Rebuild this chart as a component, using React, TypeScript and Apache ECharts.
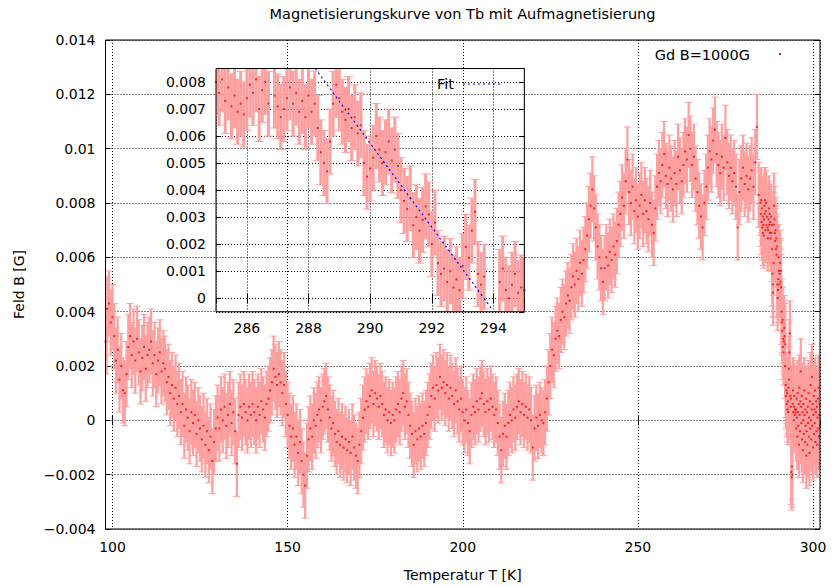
import React, { useEffect, useRef } from "react";
import * as echarts from "echarts";

const FONT = "DejaVu Sans";

// ---- field B [G] vs temperature T [K] ----
// segment 1: 98 K .. 284.5 K, every 0.5 K
const SEG1_T_START = 98;
const SEG1_T_STEP = 0.5;
const fieldSeg1: (number | null)[] = [
  0.0029, 0.0041, 0.0043, 0.0036,
  0.0038, 0.0031, 0.0022, 0.0026, 0.0015, 0.0020, 0.0011, 0.0010, 0.0017, 0.0027,
  0.0031, 0.0024, 0.0029, 0.0022, 0.0030, 0.0025, 0.0018, 0.0023, 0.0027, 0.0019,
  0.0024, 0.0026, 0.0029, 0.0021, 0.0024, 0.0017, 0.0022, 0.0025, 0.0018, 0.0021,
  0.0019, 0.0014, 0.0016, 0.0010, 0.0013, 0.0008, 0.0012, 0.0006, 0.0009, 0.0003,
  0.0006, -0.0002, 0.0004, 0.0001, -0.0004, 0.0003, -0.0001, 0.0002, -0.0005, 0.0000,
  -0.0003, -0.0007, -0.0002, -0.0009, -0.0004, -0.0011, -0.0006, -0.0015, -0.0008, -0.0003,
  0.0001, -0.0003, 0.0004, 0.0000, 0.0005, -0.0002, 0.0002, 0.0006, -0.0001, 0.0003,
  -0.0004, -0.0016, 0.0002, 0.0005, 0.0001, 0.0006, 0.0003, 0.0000, 0.0005, 0.0002,
  0.0006, 0.0003, 0.0000, 0.0005, 0.0002, 0.0007, 0.0004, 0.0001, 0.0006, 0.0008,
  0.0011, 0.0014, 0.0019, 0.0016, 0.0013, 0.0017, 0.0014, 0.0010, 0.0013, 0.0006,
  0.0002, -0.0002, -0.0006, -0.0003, -0.0009, -0.0006, -0.0012, -0.0008, -0.0015, -0.0020,
  -0.0024, -0.0013, -0.0007, -0.0003, -0.0006, 0.0000, -0.0002, 0.0002, 0.0004, 0.0000,
  0.0005, 0.0007, 0.0009, 0.0004, 0.0001, -0.0003, -0.0001, -0.0005, -0.0008, -0.0004,
  -0.0009, -0.0006, -0.0010, -0.0007, -0.0011, -0.0008, -0.0012, -0.0006, -0.0010, -0.0013,
  -0.0015, -0.0009, -0.0004, 0.0001, 0.0004, 0.0007, 0.0005, 0.0009, 0.0011, 0.0006,
  0.0010, 0.0008, 0.0005, 0.0009, 0.0006, 0.0002, 0.0004, 0.0000, 0.0003, -0.0001,
  0.0002, 0.0000, 0.0004, 0.0006, 0.0003, 0.0008, 0.0010, 0.0005, 0.0007, 0.0002,
  -0.0002, -0.0005, -0.0009, -0.0004, -0.0007, -0.0003, -0.0006, -0.0002, -0.0005, -0.0001,
  0.0002, 0.0005, 0.0009, 0.0012, 0.0008, 0.0013, 0.0011, 0.0016, 0.0012, 0.0014,
  0.0010, 0.0013, 0.0008, 0.0012, 0.0009, 0.0006, 0.0011, 0.0007, 0.0004, 0.0008,
  0.0003, 0.0000, 0.0004, -0.0001, -0.0004, 0.0002, 0.0005, 0.0003, 0.0007, 0.0004,
  0.0008, 0.0010, 0.0006, 0.0003, 0.0007, 0.0004, 0.0008, 0.0005, 0.0002, 0.0004,
  -0.0001, -0.0006, -0.0011, -0.0005, -0.0002, -0.0006, -0.0001, 0.0002, 0.0000, 0.0004,
  0.0001, 0.0005, 0.0007, 0.0003, 0.0006, 0.0002, 0.0005, 0.0001, 0.0004, 0.0000,
  -0.0010, -0.0003, 0.0001, -0.0002, 0.0002, 0.0000, -0.0001, 0.0003, 0.0008, 0.0014,
  0.0020, 0.0026, 0.0024, 0.0030, 0.0033, 0.0031, 0.0037, 0.0040, 0.0038, 0.0043,
  0.0046, 0.0044, 0.0049, 0.0053, 0.0050, 0.0055, 0.0052, 0.0058, 0.0054, 0.0059,
  0.0063, 0.0068, 0.0074, 0.0079, 0.0085, 0.0078, 0.0071, 0.0064, 0.0060, 0.0056,
  0.0051, 0.0056, 0.0060, 0.0057, 0.0062, 0.0059, 0.0064, 0.0061, 0.0066, 0.0072,
  0.0076, 0.0082, 0.0079, 0.0088, 0.0096, 0.0084, 0.0080, 0.0086, 0.0077, 0.0081,
  0.0075, 0.0079, 0.0083, 0.0076, 0.0081, 0.0077, 0.0074, 0.0080, 0.0072, 0.0069,
  0.0078, 0.0086, 0.0091, 0.0088, 0.0094, 0.0098, 0.0090, 0.0087, 0.0093, 0.0089,
  0.0085, 0.0091, 0.0087, 0.0097, 0.0092, 0.0088, 0.0094, 0.0099, 0.0096, 0.0105,
  0.0100, 0.0094, 0.0097, 0.0089, 0.0084, 0.0079, 0.0075, 0.0071, 0.0080, 0.0086,
  0.0093, 0.0099, 0.0096, 0.0103, 0.0107, 0.0098, 0.0094, 0.0091, 0.0097, 0.0093,
  0.0104, 0.0095, 0.0090, 0.0093, 0.0088, 0.0091, 0.0086, 0.0071, 0.0084, 0.0089,
  0.0093, 0.0087, 0.0090, 0.0085, 0.0089, 0.0092, 0.0086, 0.0095, 0.0108, 0.0083,
];

// segment 2: 285.0 K .. 295.0 K, every 0.1 K (the zoomed region)
const SEG2_T_START = 285;
const SEG2_T_STEP = 0.1;
const fieldSeg2: (number | null)[] = [
  0.0080, 0.0076, 0.0081, 0.0073, 0.0078, 0.0071, 0.0075, 0.0069, 0.0072, 0.0068,
  0.0074, 0.0079, 0.0076, 0.0081, 0.0070, 0.0077, 0.0080, 0.0072, null, 0.0075,
  0.0071, 0.0067, 0.0070, 0.0074, 0.0078, 0.0072, 0.0076, 0.0069, 0.0073, 0.0067,
  0.0075, 0.0069, 0.0072, 0.0063, 0.0054, 0.0050, 0.0047, 0.0058, 0.0072, 0.0079,
  0.0074, 0.0069, 0.0066, 0.0070, 0.0063, 0.0067, 0.0061, 0.0064, 0.0050, 0.0045,
  0.0048, 0.0052, 0.0060, 0.0055, 0.0050, 0.0054, 0.0058, 0.0051, 0.0055, 0.0049,
  0.0040, 0.0036, 0.0033, 0.0037, 0.0027, 0.0030, 0.0025, 0.0029, 0.0034, 0.0031,
  0.0020, 0.0028, 0.0013, 0.0009, 0.0011, 0.0006, 0.0010, 0.0004, 0.0007, 0.0003,
  0.0012, 0.0019, 0.0015, 0.0025, 0.0032, 0.0009, 0.0005, 0.0008, -0.0019, -0.0021,
  -0.0017, -0.0020, 0.0006, 0.0011, 0.0003, 0.0000, 0.0005, 0.0009, 0.0002, 0.0004,
  0.0003,
];

// segment 3: 295.1 K .. 302.0 K, every 0.1 K
const SEG3_T_START = 295.1;
const SEG3_T_STEP = 0.1;
const fieldSeg3: (number | null)[] = [
  0.0004, -0.0003, 0.0008, 0.0001, -0.0006, 0.0010, 0.0003, -0.0002, 0.0006, -0.0009,
  0.0012, 0.0002, -0.0004, 0.0007, 0.0018, 0.0005, -0.0001, 0.0009, -0.0007, 0.0003,
  -0.0011, 0.0000, 0.0006, -0.0005, 0.0011, 0.0002, -0.0008, 0.0004, -0.0002, 0.0008,
  -0.0013, -0.0004, 0.0003, -0.0009, 0.0005, -0.0001, 0.0010, -0.0006, 0.0001, -0.0012,
  0.0007, -0.0003, 0.0013, 0.0000, -0.0007, 0.0004, 0.0016, -0.0002, 0.0006, -0.0010,
  0.0002, 0.0009, -0.0005, 0.0004, -0.0001, 0.0011, -0.0008, 0.0003, 0.0007, -0.0004,
  0.0005, -0.0009, 0.0001, 0.0008, -0.0003, 0.0012, -0.0006, 0.0002, 0.0006, -0.0002,
];

// error of each measured field value
const FIELD_ERR = 0.0012;

// linear fit drawn in the inset (end points)
const fitT = [288.22, 293.93];
const fitB = [0.0085, -0.00037];

// tick labels
const mainXTicks = [100, 150, 200, 250, 300];
const mainYTicks = [-0.004, -0.002, 0, 0.002, 0.004, 0.006, 0.008, 0.01, 0.012, 0.014];
const mainYTickLabels = ["\u22120.004", "\u22120.002", "0", "0.002", "0.004", "0.006", "0.008", "0.01", "0.012", "0.014"];
const insetXTicks = [286, 288, 290, 292, 294];
const insetYTicks = [0, 0.001, 0.002, 0.003, 0.004, 0.005, 0.006, 0.007, 0.008];
const insetYTickLabels = ["0", "0.001", "0.002", "0.003", "0.004", "0.005", "0.006", "0.007", "0.008"];

const ERR_COLOR = "#ff9f9f";
const DOT_COLOR = "#ff0000";

function toPoints(start: number, step: number, values: (number | null)[]) {
  const out: number[][] = [];
  values.forEach((b, i) => {
    if (b === null) return;
    out.push([Number((start + i * step).toFixed(3)), b, FIELD_ERR]);
  });
  return out;
}

function makeErrorBarRenderer(capHalf: number, barWidth: number) {
  return (params: any, api: any) => {
    const t = api.value(0);
    const b = api.value(1);
    const e = api.value(2);
    const cs = params.coordSys;
    const top = api.coord([t, b + e]);
    const bot = api.coord([t, b - e]);
    const x = top[0];
    if (x < cs.x - 0.5 || x > cs.x + cs.width + 0.5) return null;
    const yLo = cs.y;
    const yHi = cs.y + cs.height;
    const y1 = Math.max(top[1], yLo);
    const y2 = Math.min(bot[1], yHi);
    if (y2 <= y1) return null;
    const xl = Math.max(x - capHalf, cs.x);
    const xr = Math.min(x + capHalf, cs.x + cs.width);
    const bx = Math.min(Math.max(x, cs.x + barWidth / 2), cs.x + cs.width - barWidth / 2);
    const capStyle = { stroke: ERR_COLOR, lineWidth: 1 };
    const children: any[] = [
      { type: "line", shape: { x1: bx, y1, x2: bx, y2 }, style: { stroke: ERR_COLOR, lineWidth: barWidth } },
    ];
    if (top[1] >= yLo) children.push({ type: "line", shape: { x1: xl, y1: top[1], x2: xr, y2: top[1] }, style: capStyle });
    if (bot[1] <= yHi) children.push({ type: "line", shape: { x1: xl, y1: bot[1], x2: xr, y2: bot[1] }, style: capStyle });
    return { type: "group", children };
  };
}

function labelFor(ticks: number[], labels: string[] | null) {
  return (v: number) => {
    for (let i = 0; i < ticks.length; i++) {
      if (Math.abs(v - ticks[i]) < Math.abs(ticks[1] - ticks[0]) * 1e-4) {
        return labels ? labels[i] : String(ticks[i]);
      }
    }
    return "";
  };
}

const gridLine = { show: true, lineStyle: { color: "#000", width: 1, type: [1, 2] as any } };
const tickIn = { show: true, inside: true, length: 5, lineStyle: { color: "#000", width: 1 } };

function buildOption(): any {
  const allPts = [
    ...toPoints(SEG1_T_START, SEG1_T_STEP, fieldSeg1),
    ...toPoints(SEG2_T_START, SEG2_T_STEP, fieldSeg2),
    ...toPoints(SEG3_T_START, SEG3_T_STEP, fieldSeg3),
  ];
  const insetPts = allPts.filter((p) => p[0] >= 285 && p[0] <= 295);
  const fitPts = fitT.map((t, i) => [t, fitB[i]]);

  return {
    animation: false,
    textStyle: { fontFamily: FONT, fontSize: 14, color: "#000" },
    grid: [
      { left: 105.5, top: 40, width: 714.5, height: 491, show: true, borderColor: "#000", borderWidth: 1, backgroundColor: "transparent", z: 5 },
      { left: 216, top: 68.5, width: 308.3, height: 243.3, show: true, borderColor: "#000", borderWidth: 1, backgroundColor: "transparent", z: 5 },
    ],
    xAxis: [
      {
        gridIndex: 0, type: "value", position: "bottom", min: 98, max: 302, splitNumber: 4,
        minInterval: 50, maxInterval: 50,
        axisLine: { show: false }, axisTick: tickIn, splitLine: gridLine,
        axisLabel: { margin: 11, fontSize: 14, fontFamily: FONT, color: "#000", showMinLabel: false, showMaxLabel: false, formatter: labelFor(mainXTicks, null) },
        name: "Temperatur T [K]", nameLocation: "middle", nameGap: 39,
        nameTextStyle: { fontSize: 14, fontFamily: FONT, color: "#000" },
      },
      {
        gridIndex: 0, type: "value", position: "top", min: 98, max: 302, splitNumber: 4,
        minInterval: 50, maxInterval: 50,
        axisLine: { show: false }, axisTick: tickIn, splitLine: { show: false }, axisLabel: { show: false },
      },
      {
        gridIndex: 1, type: "value", position: "bottom", min: 285, max: 295, splitNumber: 5,
        minInterval: 2, maxInterval: 2,
        axisLine: { show: false }, axisTick: tickIn, splitLine: gridLine,
        axisLabel: { margin: 9, fontSize: 14, fontFamily: FONT, color: "#000", showMinLabel: false, showMaxLabel: false, formatter: labelFor(insetXTicks, null) },
      },
      {
        gridIndex: 1, type: "value", position: "top", min: 285, max: 295, splitNumber: 5,
        minInterval: 2, maxInterval: 2,
        axisLine: { show: false }, axisTick: tickIn, splitLine: { show: false }, axisLabel: { show: false },
      },
    ],
    yAxis: [
      {
        gridIndex: 0, type: "value", position: "left", min: -0.004, max: 0.014, interval: 0.002,
        axisLine: { show: false }, axisTick: tickIn, splitLine: gridLine,
        axisLabel: { margin: 10, fontSize: 14, fontFamily: FONT, color: "#000", formatter: labelFor(mainYTicks, mainYTickLabels) },
        name: "Feld B [G]", nameLocation: "middle", nameGap: 80,
        nameTextStyle: { fontSize: 14, fontFamily: FONT, color: "#000" },
      },
      {
        gridIndex: 0, type: "value", position: "right", min: -0.004, max: 0.014, interval: 0.002,
        axisLine: { show: false }, axisTick: tickIn, splitLine: { show: false }, axisLabel: { show: false },
      },
      {
        gridIndex: 1, type: "value", position: "left", min: -0.0005, max: 0.0085, splitNumber: 9,
        minInterval: 0.001, maxInterval: 0.001,
        axisLine: { show: false }, axisTick: tickIn, splitLine: gridLine,
        axisLabel: { margin: 10, fontSize: 14, fontFamily: FONT, color: "#000", showMinLabel: false, showMaxLabel: false, formatter: labelFor(insetYTicks, insetYTickLabels) },
      },
      {
        gridIndex: 1, type: "value", position: "right", min: -0.0005, max: 0.0085, splitNumber: 9,
        minInterval: 0.001, maxInterval: 0.001,
        axisLine: { show: false }, axisTick: tickIn, splitLine: { show: false }, axisLabel: { show: false },
      },
    ],
    series: [
      {
        type: "custom", name: "Gd B=1000G errors", xAxisIndex: 0, yAxisIndex: 0,
        dimensions: ["T", "B", "err"], encode: { x: 0, y: 1 },
        renderItem: makeErrorBarRenderer(3.5, 2.2), data: allPts, z: 2, silent: true,
      },
      {
        type: "scatter", name: "Gd B=1000G", xAxisIndex: 0, yAxisIndex: 0,
        symbol: "rect", symbolSize: 2, itemStyle: { color: DOT_COLOR },
        data: allPts.map((p) => [p[0], p[1]]), z: 3, silent: true,
      },
      {
        type: "custom", name: "inset errors", xAxisIndex: 2, yAxisIndex: 2,
        dimensions: ["T", "B", "err"], encode: { x: 0, y: 1 },
        renderItem: makeErrorBarRenderer(4.5, 3), data: insetPts, z: 2, silent: true,
      },
      {
        type: "scatter", name: "inset points", xAxisIndex: 2, yAxisIndex: 2,
        symbol: "rect", symbolSize: 2, itemStyle: { color: DOT_COLOR },
        data: insetPts.map((p) => [p[0], p[1]]), z: 3, silent: true,
      },
      {
        type: "line", name: "Fit", xAxisIndex: 2, yAxisIndex: 2,
        showSymbol: false, symbol: "none", data: fitPts, z: 4, silent: true,
        lineStyle: { color: "#0000ff", width: 1.2, type: [2, 3] },
      },
    ],
    graphic: [
      {
        type: "text", x: 462.5, y: 14,
        style: { text: "Magnetisierungskurve von Tb mit Aufmagnetisierung", font: `14.5px "${FONT}"`, fill: "#000", align: "center", verticalAlign: "middle" },
      },
      {
        type: "text", x: 750, y: 55,
        style: { text: "Gd B=1000G", font: `14.5px "${FONT}"`, fill: "#000", align: "right", verticalAlign: "middle" },
      },
      { type: "rect", shape: { x: 779, y: 53, width: 2, height: 2 }, style: { fill: DOT_COLOR } },
      {
        type: "text", x: 454, y: 84,
        style: { text: "Fit", font: `14.5px "${FONT}"`, fill: "#000", align: "right", verticalAlign: "middle" },
      },
      {
        type: "line", shape: { x1: 463, y1: 84, x2: 503, y2: 84 },
        style: { stroke: "#0000ff", lineWidth: 1.2, lineDash: [2, 3] },
      },
    ],
  };
}

export default function App() {
  const ref = useRef<HTMLDivElement>(null);
  useEffect(() => {
    document.body.style.margin = "0";
    const chart = echarts.init(ref.current as HTMLDivElement, null, { renderer: "svg", width: 832, height: 587 });
    chart.setOption(buildOption());
    return () => chart.dispose();
  }, []);
  return <div ref={ref} style={{ width: 832, height: 587, position: "fixed", left: 0, top: 0, background: "#fff" }} />;
}
